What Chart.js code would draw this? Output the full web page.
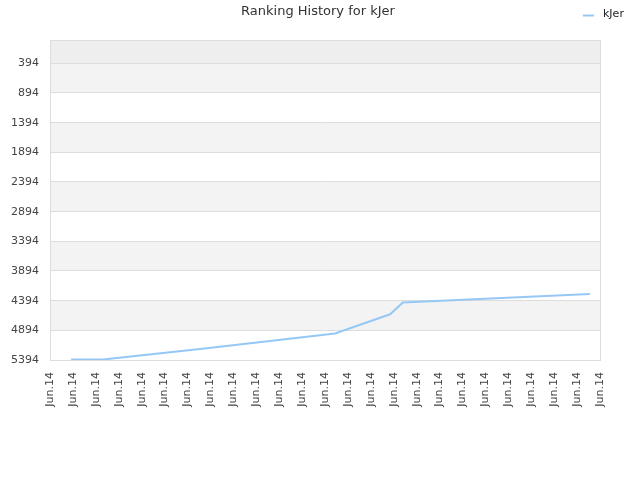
<!DOCTYPE html>
<html>
<head>
<meta charset="utf-8">
<script src="https://cdn.jsdelivr.net/npm/chart.js@4/dist/chart.umd.min.js"></script>
<style>
html,body{margin:0;padding:0;background:#fff;}
#wrap{width:640px;height:480px;}
</style>
</head>
<body>
<div id="wrap"><canvas id="c" width="640" height="480"></canvas></div>
<script>
const chartTitle = "Ranking History for kJer";
const seriesName = "kJer";
const xTickLabels = ["Jun.14","Jun.14","Jun.14","Jun.14","Jun.14","Jun.14","Jun.14","Jun.14","Jun.14","Jun.14","Jun.14","Jun.14","Jun.14","Jun.14","Jun.14","Jun.14","Jun.14","Jun.14","Jun.14","Jun.14","Jun.14","Jun.14","Jun.14","Jun.14","Jun.14"];
const yTickValues = [394, 894, 1394, 1894, 2394, 2894, 3394, 3894, 4394, 4894, 5394];
const pointX = [0.92, 2.40, 6.55, 12.44, 14.84, 15.40, 23.56];
const rankY = [5386, 5382, 5209, 4947, 4624, 4425, 4282];

const data = pointX.map((x, i) => ({x: x, y: rankY[i]}));
const lineColor = 'rgb(150,200,245)';

const bandsPlugin = {
  id: 'bands',
  beforeDraw(chart) {
    const {ctx, chartArea: a, scales: {y}} = chart;
    ctx.save();
    ctx.fillStyle = '#eeeeee';
    const t0 = y.getPixelForValue(yTickValues[0]);
    ctx.fillRect(a.left, a.top, a.right - a.left, t0 - a.top);
    for (let i = 0; i < yTickValues.length - 1; i++) {
      const p1 = y.getPixelForValue(yTickValues[i]);
      const p2 = y.getPixelForValue(yTickValues[i + 1]);
      ctx.fillStyle = (i % 2 === 0) ? '#f3f3f3' : '#ffffff';
      ctx.fillRect(a.left, p1, a.right - a.left, p2 - p1);
    }
    ctx.restore();
  },
  afterDraw(chart) {
    const {ctx, chartArea: a} = chart;
    ctx.save();
    ctx.strokeStyle = '#dddddd';
    ctx.lineWidth = 1;
    ctx.strokeRect(Math.round(a.left) + 0.5, Math.round(a.top) + 0.5, Math.round(a.right - a.left), Math.round(a.bottom - a.top));
    // title
    ctx.fillStyle = '#333';
    ctx.font = '13px "DejaVu Sans", sans-serif';
    ctx.textBaseline = 'middle';
    ctx.textAlign = 'center';
    ctx.fillText(chartTitle, 318, 12);
    // legend
    ctx.strokeStyle = lineColor;
    ctx.lineWidth = 2;
    ctx.beginPath();
    ctx.moveTo(583, 15.5);
    ctx.lineTo(594, 15.5);
    ctx.stroke();
    ctx.fillStyle = '#222';
    ctx.font = '11px "DejaVu Sans", sans-serif';
    ctx.textAlign = 'left';
    ctx.fillText(seriesName, 603, 14);
    ctx.restore();
  }
};

new Chart(document.getElementById('c'), {
  type: 'line',
  data: {
    datasets: [{
      label: seriesName,
      data: data,
      borderColor: lineColor,
      backgroundColor: lineColor,
      borderWidth: 2,
      pointRadius: 0,
      tension: 0,
      fill: false
    }]
  },
  options: {
    responsive: false,
    animation: false,
    layout: {padding: {left: 0, right: 40, top: 40, bottom: 0}},
    plugins: {
      legend: {display: false},
      tooltip: {enabled: false},
      title: {display: false}
    },
    scales: {
      x: {
        type: 'linear',
        min: 0,
        max: 24,
        afterBuildTicks(scale) {
          scale.ticks = xTickLabels.map((l, i) => ({value: i}));
        },
        afterFit(scale) { scale.height = 120; },
        grid: {display: false, drawTicks: false},
        border: {display: true, color: '#dddddd'},
        ticks: {
          autoSkip: false,
          maxRotation: 90,
          minRotation: 90,
          padding: 12,
          color: '#444',
          font: {family: '"DejaVu Sans", sans-serif', size: 11},
          callback: (v, i) => xTickLabels[i]
        }
      },
      y: {
        type: 'linear',
        reverse: true,
        min: 1,
        max: 5394,
        afterBuildTicks(scale) {
          scale.ticks = yTickValues.map(v => ({value: v}));
        },
        afterFit(scale) { scale.width = 50; },
        grid: {color: '#dddddd', drawTicks: false},
        border: {display: true, color: '#dddddd'},
        ticks: {
          padding: 11,
          color: '#444',
          font: {family: '"DejaVu Sans", sans-serif', size: 11},
          callback: v => String(v)
        }
      }
    }
  },
  plugins: [bandsPlugin]
});
</script>
</body>
</html>
